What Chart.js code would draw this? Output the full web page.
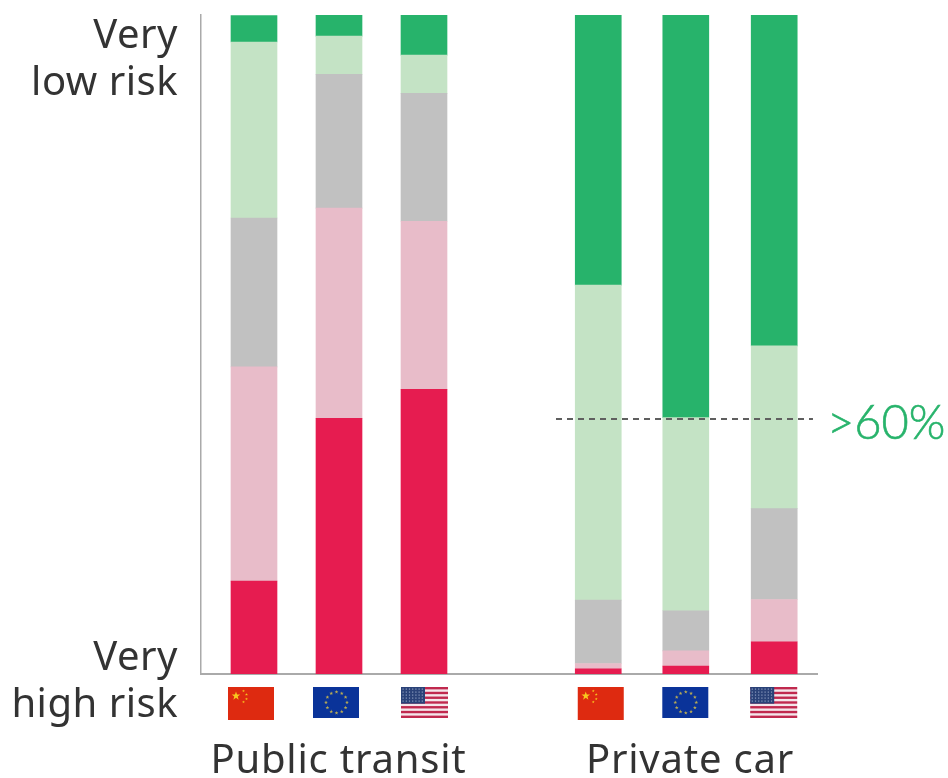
<!DOCTYPE html>
<html>
<head>
<meta charset="utf-8">
<title>Risk by transport mode</title>
<script src="https://cdn.jsdelivr.net/npm/chart.js@4/dist/chart.umd.min.js"></script>
<style>
  html, body { margin: 0; background: #fff; }
  canvas { display: block; }
</style>
</head>
<body>
<canvas id="riskChart" width="948" height="778"></canvas>
<script>
// Each column sits at a slot on the x axis, transit group then car group
const slots = [0, 1, 2, 4.05, 5.08, 6.12];
const flags = ['cn', 'eu', 'us', 'cn', 'eu', 'us'];
const groupLabels = ['Public transit', 'Private car'];

// Share of each risk band, bottom of the stack upwards
const veryHigh = [14.1, 38.8, 43.2, 0.8, 1.2, 4.9];
const high = [32.5, 31.9, 25.5, 0.8, 2.3, 6.4];
const medium = [22.6, 20.3, 19.4, 9.6, 6.1, 13.8];
const low = [26.7, 5.8, 5.8, 47.8, 29.3, 24.7];
const veryLow = [4.0, 3.2, 6.1, 41.0, 61.1, 50.2];

const thresholdLevel = 38.7;
const thresholdSpan = [3.553, 6.576];

const TEXT_COLOR = '#333333';
const GREEN = '#27b36b';
const FONT = '"Noto Sans", sans-serif';

function band(label, values, color) {
    return {
        type: 'bar',
        label: label,
        data: values.map((v, i) => ({ x: slots[i], y: v })),
        backgroundColor: color,
        barThickness: 46,
        stack: 'risk',
        order: 1
    };
}

function drawStar(ctx, cx, cy, r) {
    ctx.beginPath();
    for (let i = 0; i < 10; i++) {
        const a = -Math.PI / 2 + i * Math.PI / 5;
        const rad = i % 2 ? r * 0.4 : r;
        ctx.lineTo(cx + rad * Math.cos(a), cy + rad * Math.sin(a));
    }
    ctx.closePath();
    ctx.fill();
}

function drawChina(ctx, x, y) {
    ctx.fillStyle = '#de2a10';
    ctx.fillRect(x, y, 46, 33);
    ctx.fillStyle = '#f7c81e';
    drawStar(ctx, x + 8, y + 9, 4.5);
    [[15.5, 4], [18.5, 7.5], [18.5, 12], [15.5, 15]].forEach(p => {
        drawStar(ctx, x + p[0], y + p[1], 1.5);
    });
}

function drawEurope(ctx, x, y) {
    ctx.fillStyle = '#0a3399';
    ctx.fillRect(x, y, 46, 31);
    ctx.fillStyle = '#b8ab55';
    for (let i = 0; i < 12; i++) {
        const a = i * Math.PI / 6;
        drawStar(ctx, x + 23.5 + 10.5 * Math.cos(a), y + 15.5 + 10.5 * Math.sin(a), 2);
    }
}

function drawUsa(ctx, x, y) {
    const h = 31 / 13;
    ctx.fillStyle = '#f4e6ea';
    ctx.fillRect(x, y, 47, 31);
    ctx.fillStyle = '#c0294e';
    for (let i = 0; i < 13; i += 2) {
        ctx.fillRect(x, y + i * h, 47, h);
    }
    ctx.fillStyle = '#2a4278';
    ctx.fillRect(x, y, 24, h * 7);
    ctx.fillStyle = '#8d9dc0';
    for (let r = 0; r < 5; r++) {
        for (let c = 0; c < 7; c++) {
            ctx.fillRect(x + 1.5 + c * 3.2, y + 1.5 + r * 3, 1.2, 1.2);
        }
    }
}

// Flags, group captions and the free-standing labels around the plot
const annotations = {
    id: 'annotations',
    afterDraw(chart) {
        const ctx = chart.ctx;
        const xScale = chart.scales.x;
        ctx.save();

        const nudge = [-3, -2.5, 0.5, 2.5, 0, -0.5];
        flags.forEach((flag, i) => {
            const cx = xScale.getPixelForValue(slots[i]) + nudge[i];
            if (flag === 'cn') drawChina(ctx, cx - 23, 687);
            if (flag === 'eu') drawEurope(ctx, cx - 23.5, 687);
            if (flag === 'us') drawUsa(ctx, cx - 23.5, 687);
        });

        ctx.font = '40px ' + FONT;
        ctx.fillStyle = TEXT_COLOR;
        ctx.textBaseline = 'alphabetic';
        ctx.textAlign = 'right';
        ctx.letterSpacing = '0.5px';
        ctx.fillText('Very', 178, 48);
        ctx.fillText('low risk', 178, 95);
        ctx.fillText('Very', 178, 670);
        ctx.fillText('high risk', 178, 717);

        ctx.textAlign = 'center';
        ctx.letterSpacing = '0.8px';
        ctx.fillText(groupLabels[0], 338.5, 773);
        ctx.fillText(groupLabels[1], 690, 773);

        ctx.textAlign = 'left';
        ctx.letterSpacing = '0px';
        ctx.fillStyle = GREEN;
        ctx.strokeStyle = GREEN;
        ctx.lineWidth = 0.6;
        ctx.font = '300 47px "Lato", ' + FONT;
        ctx.fillText('>60%', 827, 439);
        ctx.strokeText('>60%', 827, 439);
        ctx.restore();
    }
};

new Chart(document.getElementById('riskChart'), {
    data: {
        datasets: [
            band('Very high risk', veryHigh, '#e61c50'),
            band('High risk', high, '#e8bcc9'),
            band('Medium risk', medium, '#c1c1c1'),
            band('Low risk', low, '#c4e3c5'),
            band('Very low risk', veryLow, GREEN),
            {
                type: 'line',
                label: 'Threshold',
                data: thresholdSpan.map(x => ({ x: x, y: thresholdLevel })),
                borderColor: '#5f5f5f',
                borderWidth: 2,
                borderDash: [6, 5],
                pointRadius: 0,
                stack: 'threshold',
                order: 0
            }
        ]
    },
    options: {
        responsive: false,
        animation: false,
        devicePixelRatio: 1,
        layout: {
            padding: { left: 201, right: 131, top: 15, bottom: 104 }
        },
        plugins: {
            legend: { display: false },
            tooltip: { enabled: false }
        },
        scales: {
            x: {
                type: 'linear',
                offset: false,
                min: -0.6235,
                max: 6.6235,
                stacked: true,
                grid: { display: false, drawTicks: false },
                ticks: { display: false },
                border: { color: '#aaaaaa', width: 2 }
            },
            y: {
                min: 0,
                max: 100,
                stacked: true,
                grid: { display: false, drawTicks: false },
                ticks: { display: false },
                border: { color: '#aaaaaa', width: 1.5 }
            }
        }
    },
    plugins: [annotations]
});
</script>
</body>
</html>
